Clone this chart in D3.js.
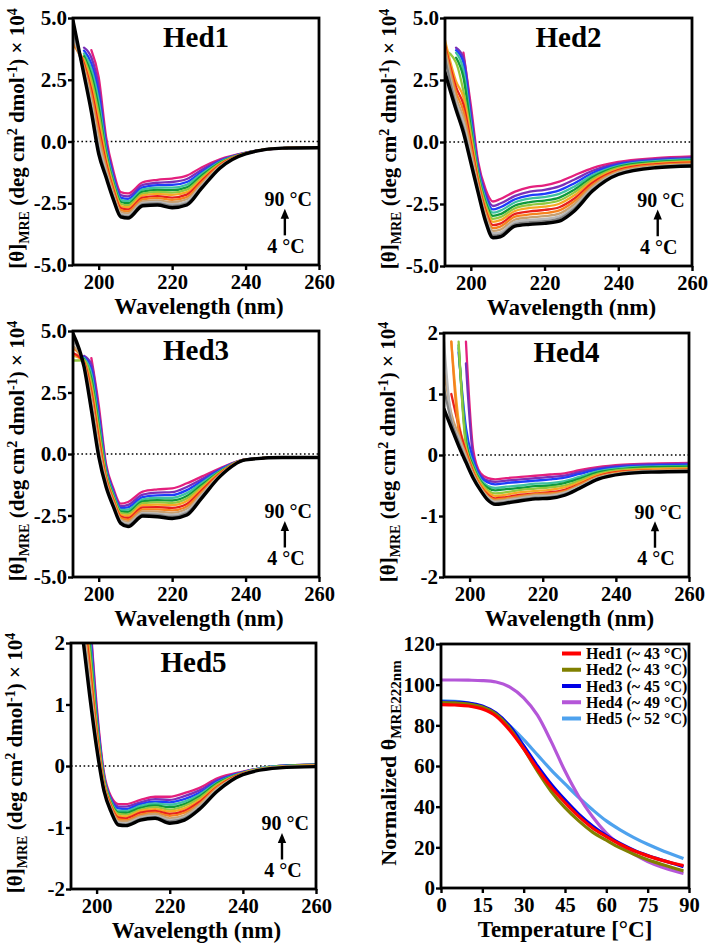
<!DOCTYPE html>
<html><head><meta charset="utf-8">
<script src="https://cdn.jsdelivr.net/npm/d3@7/dist/d3.min.js"></script>
<style>
html,body{margin:0;padding:0;background:#fff;}
svg{display:block;}
</style></head><body>
<svg id="chart" width="708" height="943"></svg>
<script>
// ---------------- DATA ----------------
// CD spectra, values in units of 10^4 deg cm2 dmol-1, one row per scan temperature (4 °C -> 90 °C)
const wavelengths = [193,196,198,200,202,204,206,208,212,216,220,224,228,233,240,250,260];
const wavelengthsHed4 = [193,195,197,199,201,203,205,207,210,214,218,222,226,230,235,242,250,260];
const scanTemps = [4,11,18,25,32,39,46,53,60,67,74,81,90];
const scanColors = ["#000000","#808080","#b8b8b8","#c8a070","#f5821f","#e8211d","#f7a823","#92c83e","#0e9a3c","#3fc1a0","#1e3dfb","#7a2fb8","#e4207e"];

const hed1 = [
 [4.9,2.7,1.2,-0.5,-1.45,-2.35,-3.05,-3.1,-2.6,-2.57,-2.68,-2.57,-1.9,-1.08,-0.5,-0.27,-0.25],
 [4.5,2.78,1.35,-0.31,-1.35,-2.28,-2.99,-3.04,-2.54,-2.51,-2.61,-2.5,-1.85,-1.06,-0.5,-0.27,-0.25],
 [4.3,2.85,1.5,-0.13,-1.25,-2.21,-2.93,-2.98,-2.49,-2.45,-2.54,-2.43,-1.8,-1.04,-0.49,-0.27,-0.25],
 [4.2,2.94,1.68,0.09,-1.14,-2.13,-2.86,-2.91,-2.42,-2.38,-2.46,-2.34,-1.74,-1.01,-0.49,-0.27,-0.25],
 [4.0,3.04,1.88,0.34,-1.0,-2.04,-2.78,-2.83,-2.34,-2.29,-2.36,-2.25,-1.67,-0.98,-0.49,-0.27,-0.24],
 [4.1,3.14,2.08,0.59,-0.87,-1.95,-2.7,-2.75,-2.27,-2.21,-2.27,-2.15,-1.6,-0.95,-0.48,-0.27,-0.24],
 [3.9,3.25,2.3,0.86,-0.72,-1.84,-2.61,-2.66,-2.18,-2.12,-2.16,-2.05,-1.53,-0.92,-0.48,-0.27,-0.24],
 [null,3.35,2.5,1.11,-0.59,-1.75,-2.53,-2.58,-2.11,-2.04,-2.07,-1.95,-1.46,-0.89,-0.47,-0.27,-0.24],
 [null,3.45,2.7,1.36,-0.46,-1.66,-2.45,-2.5,-2.03,-1.96,-1.97,-1.86,-1.39,-0.86,-0.47,-0.27,-0.24],
 [null,3.56,2.93,1.64,-0.31,-1.56,-2.36,-2.41,-1.94,-1.87,-1.87,-1.75,-1.31,-0.83,-0.47,-0.27,-0.23],
 [null,3.68,3.15,1.92,-0.16,-1.45,-2.27,-2.32,-1.86,-1.77,-1.76,-1.64,-1.24,-0.8,-0.46,-0.27,-0.23],
 [null,3.8,3.4,2.23,0.0,-1.34,-2.17,-2.22,-1.76,-1.67,-1.64,-1.52,-1.15,-0.76,-0.46,-0.27,-0.23],
 [null,null,3.7,2.6,0.2,-1.2,-2.05,-2.1,-1.65,-1.55,-1.5,-1.38,-1.05,-0.72,-0.45,-0.27,-0.23]
];
const hed2 = [
 [2.8,1.3,0.38,-0.83,-2.05,-3.2,-3.86,-3.82,-3.39,-3.32,-3.28,-3.19,-2.79,-1.98,-1.31,-1.04,-0.97],
 [3.4,1.46,0.57,-0.69,-1.98,-3.12,-3.77,-3.73,-3.31,-3.23,-3.19,-3.09,-2.7,-1.92,-1.28,-1.02,-0.95],
 [3.5,1.61,0.77,-0.55,-1.9,-3.04,-3.68,-3.64,-3.22,-3.14,-3.1,-3.0,-2.62,-1.87,-1.25,-1.0,-0.92],
 [3.7,1.79,0.99,-0.39,-1.81,-2.95,-3.58,-3.53,-3.13,-3.04,-2.99,-2.89,-2.52,-1.8,-1.21,-0.97,-0.9],
 [3.8,2.0,1.25,-0.2,-1.71,-2.85,-3.47,-3.41,-3.01,-2.92,-2.87,-2.76,-2.4,-1.73,-1.17,-0.93,-0.86],
 [3.9,2.21,1.51,-0.01,-1.61,-2.75,-3.35,-3.29,-2.9,-2.8,-2.74,-2.63,-2.29,-1.65,-1.13,-0.9,-0.83],
 [4.1,2.44,1.8,0.2,-1.5,-2.63,-3.22,-3.15,-2.78,-2.66,-2.61,-2.49,-2.16,-1.57,-1.09,-0.87,-0.8],
 [3.7,3.2,2.05,0.38,-1.4,-2.52,-3.1,-3.03,-2.67,-2.54,-2.48,-2.36,-2.04,-1.5,-1.04,-0.84,-0.77],
 [null,3.4,2.6,0.57,-1.3,-2.42,-2.98,-2.91,-2.56,-2.42,-2.36,-2.24,-1.93,-1.42,-1.0,-0.81,-0.74],
 [null,3.6,2.9,0.78,-1.19,-2.3,-2.85,-2.77,-2.43,-2.28,-2.22,-2.09,-1.8,-1.34,-0.96,-0.77,-0.7],
 [null,3.7,3.2,0.99,-1.08,-2.19,-2.72,-2.63,-2.31,-2.15,-2.09,-1.95,-1.67,-1.25,-0.91,-0.74,-0.67],
 [null,3.8,3.4,1.22,-0.95,-2.06,-2.58,-2.48,-2.17,-2.0,-1.93,-1.79,-1.52,-1.16,-0.86,-0.69,-0.62],
 [null,null,3.6,1.5,-0.8,-1.9,-2.4,-2.3,-2.0,-1.82,-1.75,-1.6,-1.35,-1.05,-0.8,-0.65,-0.58]
];
const hed3 = [
 [4.9,3.55,1.79,-0.1,-1.33,-2.14,-2.82,-2.95,-2.52,-2.55,-2.62,-2.48,-1.8,-0.92,-0.24,-0.14,-0.14],
 [4.8,3.58,1.92,0.03,-1.27,-2.1,-2.77,-2.89,-2.46,-2.48,-2.55,-2.4,-1.75,-0.9,-0.24,-0.14,-0.14],
 [4.6,3.61,2.04,0.15,-1.22,-2.05,-2.72,-2.83,-2.4,-2.42,-2.47,-2.33,-1.69,-0.88,-0.24,-0.14,-0.14],
 [4.4,3.65,2.19,0.3,-1.15,-2.0,-2.67,-2.76,-2.33,-2.34,-2.39,-2.23,-1.63,-0.86,-0.23,-0.14,-0.14],
 [4.3,3.69,2.36,0.47,-1.08,-1.94,-2.6,-2.68,-2.25,-2.25,-2.29,-2.13,-1.56,-0.83,-0.23,-0.14,-0.14],
 [4.1,3.73,2.53,0.64,-1.0,-1.88,-2.54,-2.6,-2.17,-2.16,-2.19,-2.03,-1.49,-0.8,-0.23,-0.14,-0.14],
 [4.0,3.77,2.72,0.82,-0.92,-1.81,-2.47,-2.51,-2.08,-2.06,-2.08,-1.91,-1.41,-0.77,-0.23,-0.14,-0.14],
 [3.8,3.81,2.89,0.99,-0.85,-1.76,-2.4,-2.43,-2.0,-1.97,-1.99,-1.81,-1.34,-0.74,-0.23,-0.14,-0.14],
 [null,3.85,3.06,1.16,-0.77,-1.7,-2.34,-2.35,-1.93,-1.88,-1.89,-1.71,-1.27,-0.72,-0.23,-0.14,-0.14],
 [null,3.9,3.25,1.35,-0.69,-1.63,-2.27,-2.26,-1.84,-1.78,-1.78,-1.59,-1.19,-0.69,-0.22,-0.14,-0.14],
 [null,3.94,3.44,1.54,-0.6,-1.56,-2.2,-2.17,-1.75,-1.68,-1.67,-1.47,-1.11,-0.65,-0.22,-0.14,-0.14],
 [null,3.99,3.65,1.75,-0.51,-1.49,-2.12,-2.07,-1.65,-1.57,-1.55,-1.34,-1.03,-0.62,-0.22,-0.14,-0.14],
 [null,null,3.9,2.0,-0.4,-1.4,-2.02,-1.95,-1.53,-1.44,-1.4,-1.19,-0.92,-0.58,-0.22,-0.14,-0.14]
];
const hed4 = [
 [0.75,0.45,0.15,-0.12,-0.38,-0.58,-0.74,-0.81,-0.79,-0.75,-0.72,-0.71,-0.66,-0.55,-0.4,-0.31,-0.28,-0.27],
 [1.1,0.55,0.22,-0.08,-0.36,-0.57,-0.72,-0.79,-0.77,-0.73,-0.7,-0.69,-0.64,-0.54,-0.39,-0.3,-0.27,-0.26],
 [1.86,0.6,0.28,-0.05,-0.34,-0.55,-0.7,-0.77,-0.75,-0.71,-0.68,-0.67,-0.62,-0.52,-0.38,-0.3,-0.27,-0.26],
 [1.4,0.68,0.33,-0.02,-0.32,-0.54,-0.69,-0.75,-0.73,-0.69,-0.66,-0.65,-0.61,-0.51,-0.37,-0.29,-0.26,-0.25],
 [null,1.86,0.4,0.02,-0.3,-0.52,-0.67,-0.73,-0.71,-0.67,-0.64,-0.63,-0.59,-0.49,-0.36,-0.28,-0.25,-0.24],
 [null,1.0,0.48,0.05,-0.28,-0.51,-0.65,-0.71,-0.69,-0.65,-0.63,-0.61,-0.57,-0.48,-0.35,-0.27,-0.25,-0.24],
 [null,1.86,0.56,0.1,-0.25,-0.48,-0.61,-0.67,-0.65,-0.61,-0.59,-0.57,-0.53,-0.45,-0.33,-0.26,-0.23,-0.22],
 [null,null,1.86,0.15,-0.22,-0.45,-0.58,-0.63,-0.61,-0.57,-0.55,-0.53,-0.5,-0.42,-0.31,-0.24,-0.22,-0.21],
 [null,null,1.8,0.22,-0.19,-0.43,-0.54,-0.58,-0.56,-0.54,-0.51,-0.5,-0.46,-0.39,-0.29,-0.23,-0.2,-0.19],
 [null,null,1.75,0.3,-0.15,-0.4,-0.51,-0.54,-0.52,-0.5,-0.47,-0.46,-0.43,-0.36,-0.27,-0.21,-0.19,-0.18],
 [null,null,1.68,0.45,-0.08,-0.36,-0.45,-0.48,-0.46,-0.44,-0.42,-0.4,-0.37,-0.31,-0.24,-0.19,-0.17,-0.16],
 [null,null,null,1.5,-0.02,-0.33,-0.42,-0.44,-0.42,-0.4,-0.38,-0.36,-0.34,-0.28,-0.22,-0.17,-0.15,-0.14],
 [null,null,null,1.86,0.08,-0.3,-0.38,-0.4,-0.38,-0.36,-0.34,-0.32,-0.3,-0.25,-0.2,-0.16,-0.14,-0.13]
];
const hed5 = [
 [null,2.2,1.2,0.3,-0.4,-0.75,-0.96,-0.97,-0.88,-0.85,-0.93,-0.88,-0.71,-0.41,-0.14,-0.03,-0.01],
 [null,2.3,1.28,0.34,-0.38,-0.73,-0.94,-0.95,-0.86,-0.83,-0.9,-0.85,-0.69,-0.4,-0.14,-0.03,-0.01],
 [null,2.4,1.37,0.38,-0.36,-0.72,-0.92,-0.93,-0.84,-0.81,-0.88,-0.83,-0.67,-0.38,-0.13,-0.02,0.0],
 [null,2.5,1.47,0.43,-0.34,-0.7,-0.9,-0.9,-0.82,-0.78,-0.85,-0.8,-0.64,-0.37,-0.13,-0.02,0.0],
 [null,2.6,1.58,0.49,-0.32,-0.68,-0.87,-0.88,-0.79,-0.76,-0.81,-0.76,-0.62,-0.35,-0.13,-0.02,0.01],
 [null,2.7,1.69,0.55,-0.3,-0.66,-0.84,-0.85,-0.76,-0.73,-0.78,-0.73,-0.59,-0.34,-0.12,-0.02,0.0],
 [null,2.8,1.82,0.61,-0.27,-0.64,-0.81,-0.82,-0.73,-0.7,-0.74,-0.69,-0.56,-0.32,-0.12,-0.01,0.01],
 [null,2.9,1.93,0.66,-0.24,-0.62,-0.78,-0.79,-0.71,-0.67,-0.71,-0.65,-0.53,-0.3,-0.11,-0.01,0.01],
 [null,3.0,2.04,0.72,-0.22,-0.6,-0.76,-0.76,-0.68,-0.64,-0.67,-0.62,-0.5,-0.28,-0.11,-0.01,0.02],
 [null,3.1,2.17,0.78,-0.19,-0.58,-0.73,-0.73,-0.65,-0.61,-0.63,-0.58,-0.47,-0.27,-0.11,0.0,0.01],
 [null,3.2,2.29,0.85,-0.17,-0.56,-0.69,-0.7,-0.62,-0.58,-0.59,-0.54,-0.44,-0.25,-0.1,0.0,0.02],
 [null,3.3,2.43,0.92,-0.14,-0.53,-0.66,-0.66,-0.59,-0.54,-0.55,-0.49,-0.4,-0.23,-0.1,0.0,0.02],
 [null,null,2.6,1.0,-0.1,-0.5,-0.62,-0.62,-0.55,-0.5,-0.5,-0.44,-0.36,-0.2,-0.09,0.0,0.02]
];

// Thermal melts (normalized θ at 222 nm)
const meltTemps = [0,5,10,15,20,25,30,35,40,45,50,55,60,65,70,75,80,85,88];
const meltHed1 = [90.2,90,89.5,88,84.5,77.5,68.5,58.5,49.5,42,35.2,29.5,25.3,21.5,18.3,15.8,13.7,11.9,11.0];
const meltHed2 = [91.2,91,90.5,89,85.5,78.5,68.5,57.5,47.5,39.5,33,27.5,23.5,19.7,16.6,13.9,11.7,9.6,8.4];
const meltHed3 = [91.6,91.4,91,89.5,86,79.5,70,60,51,43.3,36.3,30.5,25.8,21.9,18.6,16,13.8,11.8,10.5];
const meltHed4 = [102.3,102.3,102.2,102,101.3,98.8,93.5,85,72,57.5,45,35,27,21.2,16.6,13,10.3,8.2,7.2];
const meltHed5 = [92,91.8,91,88.8,85,79.7,73,65.5,58,51.2,44.5,38.5,33,28.6,24.8,21.5,18.6,16,14.5];
const meltLabels = ["Hed1 (~ 43 °C)","Hed2 (~ 43 °C)","Hed3 (~ 45 °C)","Hed4 (~ 49 °C)","Hed5 (~ 52 °C)"];
const meltColors = ["#ff0000","#808000","#0000e6","#b456d8","#4ea2ee"];

// Tick values
const cdXTicks = [200,220,240,260];
const cdYTicksWide = [-5,-2.5,0,2.5,5];
const cdYTicksNarrow = [-2,-1,0,1,2];
const meltXTicks = [0,15,30,45,60,75,90];
const meltYTicks = [0,20,40,60,80,100,120];

// ---------------- DRAWING ----------------
const FONT = "'Liberation Serif','Times New Roman',Times,serif";
const svg = d3.select('#chart');
svg.append('rect').attr('width',708).attr('height',943).attr('fill','#fff');

function styleAxis(g, size){
  g.attr('font-family', null).attr('font-size', null);
  g.select('.domain').remove();
  g.selectAll('.tick line').attr('stroke','#000').attr('stroke-width',2.4);
  g.selectAll('.tick text').attr('fill','#000')
    .style('font-family',FONT).style('font-weight','bold').style('font-size',size+'px');
}

function addText(parent, x, y, size, anchor){
  return parent.append('text').attr('x',x).attr('y',y)
    .attr('text-anchor',anchor||'middle')
    .style('font-family',FONT).style('font-weight','bold').style('font-size',size+'px').attr('fill','#000');
}

let clipId = 0;
function cdPanel(box, title, waves, rows, yDom, yTicks, fmt){
  const g = svg.append('g');
  const x = d3.scaleLinear().domain([193,260]).range([box.l, box.l+box.w]);
  const y = d3.scaleLinear().domain(yDom).range([box.t+box.h, box.t]);
  const id = 'clip'+(clipId++);
  g.append('clipPath').attr('id',id).append('rect')
    .attr('x',box.l).attr('y',box.t).attr('width',box.w).attr('height',box.h);
  // zero line
  g.append('line').attr('x1',x(193)).attr('x2',x(260)).attr('y1',y(0)).attr('y2',y(0))
    .attr('stroke','#000').attr('stroke-width',1.3).attr('stroke-dasharray','1.6,2.6');
  const line = d3.line().defined(d=>d[1]!==null).x(d=>x(d[0])).y(d=>y(d[1])).curve(d3.curveMonotoneX);
  const lg = g.append('g').attr('clip-path','url(#'+id+')');
  for(let i=rows.length-1;i>=0;i--){
    const pts = waves.map((w,j)=>[w, rows[i][j]]);
    lg.append('path').attr('d',line(pts)).attr('fill','none')
      .attr('stroke',scanColors[i]).attr('stroke-width', i===0?3.4:2.3)
      .attr('stroke-linejoin','round').attr('stroke-linecap','round');
  }
  // axes
  const ya = g.append('g').attr('transform','translate('+box.l+',0)')
    .call(d3.axisLeft(y).tickValues(yTicks).tickFormat(fmt).tickSize(5).tickPadding(1));
  styleAxis(ya, 21);
  const xa = g.append('g').attr('transform','translate(0,'+(box.t+box.h)+')')
    .call(d3.axisBottom(x).tickValues(cdXTicks).tickFormat(d=>String(d)).tickSize(5).tickPadding(4));
  styleAxis(xa, 20.5);
  // frame
  g.append('rect').attr('x',box.l).attr('y',box.t).attr('width',box.w).attr('height',box.h)
    .attr('fill','none').attr('stroke','#000').attr('stroke-width',2.8);
  // title
  addText(g, box.l+box.w/2, box.t+29, 29).text(title);
  // x title
  addText(g, box.l+box.w/2+3, box.t+box.h+48.5, 23).text('Wavelength (nm)');
  // y title
  const yt = g.append('text').attr('transform','translate('+(box.l-49)+','+(box.t+box.h/2-3)+') rotate(-90)')
    .attr('text-anchor','middle')
    .style('font-family',FONT).style('font-weight','bold').style('font-size','21px').attr('fill','#000');
  yt.append('tspan').text('[θ]');
  yt.append('tspan').attr('dy',5).style('font-size','14px').text('MRE');
  yt.append('tspan').attr('dy',-5).text(' (deg cm');
  yt.append('tspan').attr('dy',-7).style('font-size','14px').text('2');
  yt.append('tspan').attr('dy',7).text(' dmol');
  yt.append('tspan').attr('dy',-7).style('font-size','14px').text('-1');
  yt.append('tspan').attr('dy',7).text(') × 10');
  yt.append('tspan').attr('dy',-7).style('font-size','14px').text('4');
  // annotation 4 °C -> 90 °C
  const fy = f => y(yDom[0] + f*(yDom[1]-yDom[0]));
  const ax = x(250.7);
  addText(g, x(251.6), fy(0.238), 20).text('90 °C');
  addText(g, x(251.0), fy(0.048), 20).text('4 °C');
  g.append('line').attr('x1',ax).attr('x2',ax).attr('y1',fy(0.12)).attr('y2',fy(0.2))
    .attr('stroke','#000').attr('stroke-width',2.4);
  const tip = fy(0.228);
  g.append('path').attr('d','M'+ax+','+tip+'L'+(ax-4.2)+','+(tip+10)+'L'+(ax+4.2)+','+(tip+10)+'Z').attr('fill','#000');
}

const fmt1 = d => d.toFixed(1);
const fmt0 = d => String(d);
cdPanel({l:73,t:18,w:246,h:247}, 'Hed1', wavelengths, hed1, [-5,5], cdYTicksWide, fmt1);
cdPanel({l:445,t:18,w:247,h:248}, 'Hed2', wavelengths, hed2, [-5,5], cdYTicksWide, fmt1);
cdPanel({l:73,t:331,w:246,h:246}, 'Hed3', wavelengths, hed3, [-5,5], cdYTicksWide, fmt1);
cdPanel({l:444,t:333,w:245,h:244}, 'Hed4', wavelengthsHed4, hed4, [-2,2], cdYTicksNarrow, fmt0);
cdPanel({l:71,t:643,w:245,h:246}, 'Hed5', wavelengths, hed5, [-2,2], cdYTicksNarrow, fmt0);

// Melt panel
(function(){
  const box = {l:441,t:644,w:248,h:244};
  const g = svg.append('g');
  const x = d3.scaleLinear().domain([0,90]).range([box.l, box.l+box.w]);
  const y = d3.scaleLinear().domain([0,120]).range([box.t+box.h, box.t]);
  const series = [meltHed1, meltHed2, meltHed3, meltHed4, meltHed5];
  const line = d3.line().x((d,i)=>x(meltTemps[i])).y(d=>y(d)).curve(d3.curveMonotoneX);
  const order = [4,3,2,1,0];
  order.forEach(k=>{
    g.append('path').attr('d',line(series[k])).attr('fill','none')
      .attr('stroke',meltColors[k]).attr('stroke-width',3.2);
  });
  const ya = g.append('g').attr('transform','translate('+box.l+',0)')
    .call(d3.axisLeft(y).tickValues(meltYTicks).tickFormat(d=>String(d)).tickSize(5).tickPadding(1));
  styleAxis(ya, 21);
  const xa = g.append('g').attr('transform','translate(0,'+(box.t+box.h)+')')
    .call(d3.axisBottom(x).tickValues(meltXTicks).tickFormat(d=>String(d)).tickSize(5).tickPadding(4));
  styleAxis(xa, 20.5);
  g.append('rect').attr('x',box.l).attr('y',box.t).attr('width',box.w).attr('height',box.h)
    .attr('fill','none').attr('stroke','#000').attr('stroke-width',2.8);
  // legend
  meltLabels.forEach((lab,i)=>{
    const cy = box.t + 9.5 + i*16.25;
    g.append('line').attr('x1',562).attr('x2',581).attr('y1',cy).attr('y2',cy)
      .attr('stroke',meltColors[i]).attr('stroke-width',4);
    addText(g, 586, cy+5.5, 16, 'start').text(lab);
  });
  addText(g, box.l+box.w/2, box.t+box.h+49, 23).text('Temperature [°C]');
  const yt = g.append('text').attr('transform','translate('+(box.l-45)+','+(box.t+box.h/2-3)+') rotate(-90)')
    .attr('text-anchor','middle')
    .style('font-family',FONT).style('font-weight','bold').style('font-size','22px').attr('fill','#000');
  yt.append('tspan').text('Normalized θ');
  yt.append('tspan').attr('dy',5).style('font-size','15px').text('MRE222nm');
})();
</script></body></html>
